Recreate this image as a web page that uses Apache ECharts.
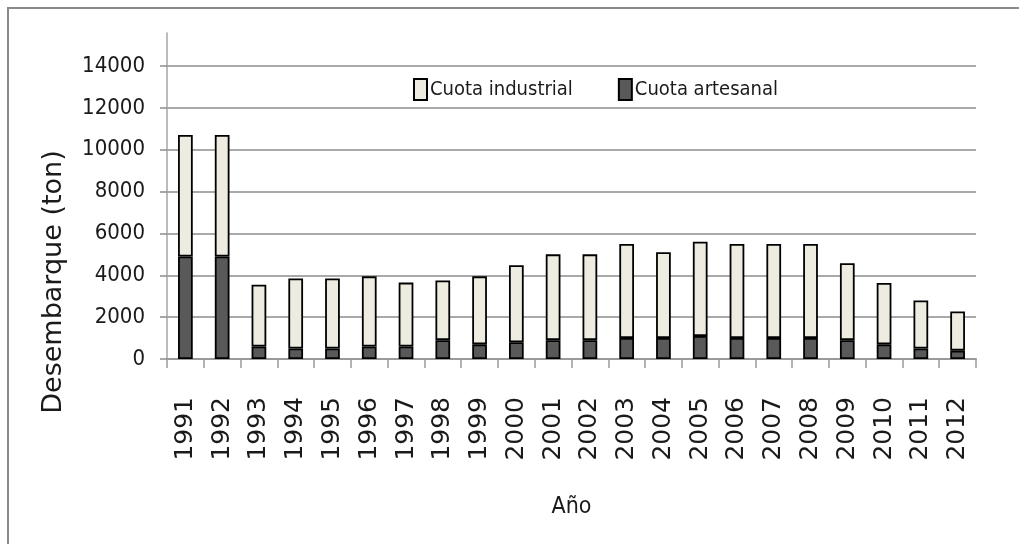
<!DOCTYPE html>
<html>
<head>
<meta charset="utf-8">
<script src="https://cdn.jsdelivr.net/npm/echarts@6/dist/echarts.min.js"></script>
<style>
  html, body { margin: 0; padding: 0; background: #fff; }
  #wrap { position: relative; width: 1019px; height: 544px; overflow: hidden; }
  #frame { position: absolute; left: 7px; top: 7px; width: 1100px; height: 600px;
           border-left: 2px solid #8a8a8a; border-top: 2px solid #8a8a8a; }
  #chart { position: absolute; left: 0; top: 0; width: 1019px; height: 544px; }
</style>
</head>
<body>
<div id="wrap">
  <div id="frame"></div>
  <div id="chart"></div>
</div>
<script>
const years = ['1991','1992','1993','1994','1995','1996','1997','1998','1999','2000','2001',
               '2002','2003','2004','2005','2006','2007','2008','2009','2010','2011','2012'];
const cuotaArtesanal = [4900,4900,600,500,500,600,600,900,700,800,900,
                        900,1000,1000,1100,1000,1000,1000,900,700,500,400];
const cuotaIndustrial = [5800,5800,2950,3350,3350,3350,3050,2850,3250,3680,4100,
                         4100,4500,4100,4500,4500,4500,4500,3680,2930,2300,1870];
const yTicks = [0,2000,4000,6000,8000,10000,12000,14000];

const narrow = '"DejaVu Sans Condensed", "Liberation Sans Narrow", sans-serif';
const gothic = '"DejaVu Sans", sans-serif';

const chart = echarts.init(document.getElementById('chart'), null, { renderer: 'canvas' });
chart.setOption({
  backgroundColor: 'transparent',
  animation: false,
  legend: {
    left: 408,
    top: 73,
    icon: 'rect',
    itemWidth: 13,
    itemHeight: 21,
    itemGap: 45,
    data: ['Cuota industrial', 'Cuota artesanal'],
    textStyle: { fontFamily: narrow, fontSize: 20, color: '#1a1a1a', padding: [0,0,0,-2] }
  },
  grid: [
    { left: 167, right: 43, top: 66, bottom: 185, containLabel: false },
    { left: 167, right: 43, top: 33, height: 33, containLabel: false }
  ],
  xAxis: [
    {
      type: 'category',
      gridIndex: 0,
      data: years,
      name: 'Año',
      nameLocation: 'middle',
      nameGap: 137,
      nameTextStyle: { fontFamily: narrow, fontSize: 23, color: '#1a1a1a' },
      axisLine: { lineStyle: { color: '#9a9a9a', width: 2 } },
      axisTick: { show: true, length: 9, lineStyle: { color: '#9a9a9a', width: 1.5 } },
      axisLabel: { rotate: 90, margin: 38, fontFamily: gothic, fontSize: 25, color: '#1a1a1a' }
    },
    { type: 'value', gridIndex: 1, min: 0, max: 1, show: false }
  ],
  yAxis: [
    {
      type: 'value',
      gridIndex: 0,
      min: 0,
      max: yTicks[yTicks.length - 1],
      interval: yTicks[1] - yTicks[0],
      axisLine: { show: true, lineStyle: { color: '#a6a6a6', width: 1.5 } },
      axisTick: { show: true, length: 7, lineStyle: { color: '#8c8c8c', width: 1.5 } },
      axisLabel: { margin: 22, fontFamily: narrow, fontSize: 22, color: '#1a1a1a',
                   formatter: function (v) { return String(v); } },
      splitLine: { show: true, lineStyle: { color: '#8c8c8c', width: 1.6 } }
    },
    {
      type: 'value',
      gridIndex: 1,
      min: 0, max: 1,
      axisLine: { show: true, lineStyle: { color: '#a6a6a6', width: 1.5 } },
      axisTick: { show: false },
      axisLabel: { show: false },
      splitLine: { show: false }
    }
  ],
  graphic: [
    {
      type: 'text',
      x: 54,
      y: 282,
      rotation: Math.PI / 2,
      style: {
        text: 'Desembarque (ton)',
        fontFamily: gothic,
        fontSize: 27,
        fill: '#1a1a1a',
        textAlign: 'center',
        textVerticalAlign: 'middle'
      }
    }
  ],
  series: [
    {
      name: 'Cuota artesanal',
      type: 'bar',
      stack: 'total',
      xAxisIndex: 0, yAxisIndex: 0,
      barWidth: '40%',
      data: cuotaArtesanal,
      itemStyle: { color: '#595959', borderColor: '#000', borderWidth: 1.8 }
    },
    {
      name: 'Cuota industrial',
      type: 'bar',
      stack: 'total',
      xAxisIndex: 0, yAxisIndex: 0,
      barWidth: '40%',
      data: cuotaIndustrial,
      itemStyle: { color: '#eeece1', borderColor: '#000', borderWidth: 1.8 }
    }
  ]
});
</script>
</body>
</html>
